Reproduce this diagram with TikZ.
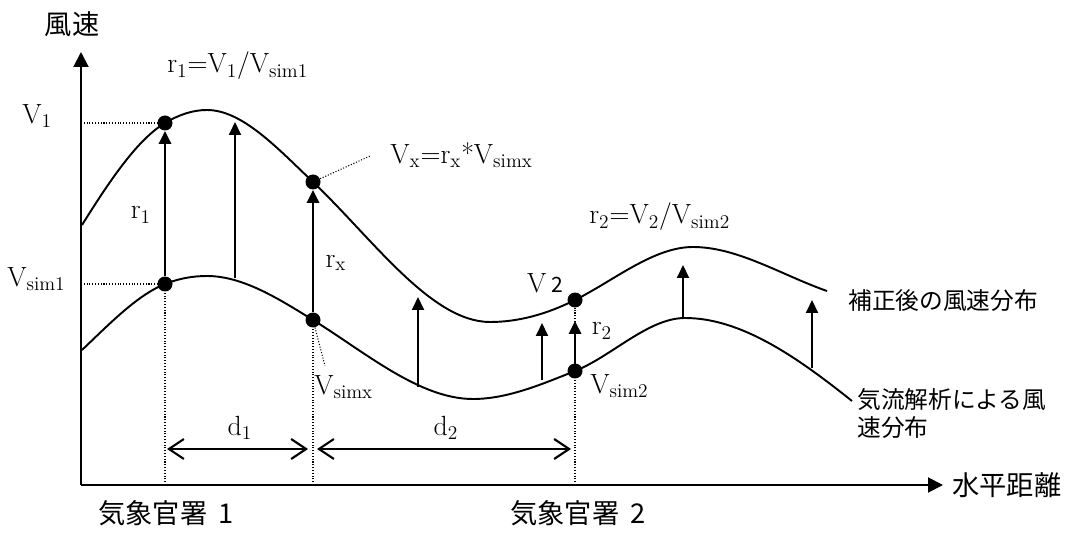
\documentclass[tikz,border=0pt]{standalone}
\usepackage{fontspec}
\newfontfamily\jpfont{Noto Sans CJK JP}
\usetikzlibrary{arrows.meta}
\newcommand{\sub}[1]{\textsubscript{#1}}
\begin{document}
\begin{tikzpicture}[x=0.02cm, y=-0.02cm,
    dot/.style={circle, fill, inner sep=0pt, minimum size=0.3cm},
    lbl/.style={inner sep=0pt, font=\fontsize{15.8}{18}\selectfont},
    jlbl/.style={inner sep=0pt, font=\jpfont\fontsize{13.5}{17}\selectfont},
    axlbl/.style={jlbl, font=\jpfont\fontsize{15.5}{18}\selectfont},
    axis/.style={line width=1.1pt, -{Triangle[length=0.3cm, width=0.3cm]}},
    uparrow/.style={line width=1.1pt, -{Triangle[length=0.26cm, width=0.24cm]}},
    bigarrow/.style={uparrow, line width=1.6pt},
    curve/.style={line width=1.1pt},
    guide/.style={densely dotted, line width=0.6pt},
    span/.style={line width=1.2pt, {Straight Barb[length=0.3cm, width=0.4cm]}-{Straight Barb[length=0.3cm, width=0.4cm]}}]
    \useasboundingbox (0,0) rectangle (1078,533);

    \coordinate (o) at (81,485);
    \coordinate (ytop) at (81,52);
    \coordinate (xend) at (943,485);
    \draw[axis] (o) -- (ytop);
    \draw[axis] (o) -- (xend);
    \node[axlbl] (vaxis) at (72,24) {風速};
    \node[axlbl, anchor=west] (haxis) at (952,485) {水平距離};

    \coordinate (g1) at (165,485);
    \coordinate (gx) at (313,485);
    \coordinate (g2) at (575,485);
    \coordinate (y1) at (81,123);
    \coordinate (ys1) at (81,284);

    % corrected wind speed
    \draw[curve] (82,225) .. controls (109.7,180.7) and (137.3,139.6) .. (165,123)
        .. controls (179,114.6) and (193,110) .. (207,110)
        .. controls (242.3,110) and (277.7,148.5) .. (313,182)
        .. controls (372,238) and (431,322) .. (490,322)
        .. controls (518.3,322) and (546.7,314.2) .. (575,300)
        .. controls (614.3,280.3) and (653.7,247) .. (693,247)
        .. controls (737.7,247) and (782.3,275.4) .. (827,291);
    % simulated wind speed
    \draw[curve] (82,350) .. controls (109.7,323.7) and (137.3,295.1) .. (165,284)
        .. controls (179,278.4) and (193,276) .. (207,276)
        .. controls (242.3,276) and (277.7,298.1) .. (313,320)
        .. controls (366.3,353) and (419.7,399) .. (473,399)
        .. controls (507,399) and (541,384.6) .. (575,371)
        .. controls (611.7,356.3) and (648.3,318) .. (685,318)
        .. controls (740.7,318) and (796.3,356.5) .. (852,401);

    \node[dot] (v1) at (165,123) {};
    \node[dot] (s1) at (165,284) {};
    \node[dot] (vx) at (313,182) {};
    \node[dot] (sx) at (313,320) {};
    \node[dot] (v2) at (575,300) {};
    \node[dot] (s2) at (575,371) {};

    \draw[guide] (y1) -- (v1);
    \draw[guide] (ys1) -- (s1);
    \draw[guide] (g1) -- (s1);
    \draw[guide] (gx) -- (sx);
    \draw[guide] (g2) -- (v2);

    \draw[bigarrow] (s1) -- (v1);
    \draw[bigarrow] (sx) -- (vx);
    \draw[bigarrow, shorten >=0.26cm] (s2) -- (v2);
    \foreach \x/\b/\t in {235/278/122, 418/387/297, 542/380/323, 683/318/265, 812/368/300} {
        \coordinate (b\x) at (\x,\b);
        \coordinate (t\x) at (\x,\t);
        \draw[uparrow] (b\x) -- (t\x);
    }

    \node[lbl, anchor=west] (lv1) at (22,116) {V\sub{1}};
    \node[lbl, anchor=west] (lvs1) at (7,279) {V\sub{sim1}};
    \node[lbl] (lr1) at (141,215) {r\sub{1}};
    \node[lbl] (lrx) at (336,263) {r\sub{x}};
    \node[lbl] (lr2) at (602,331) {r\sub{2}};
    \node[lbl, anchor=west] (eq1) at (167,66) {r\sub{1}=V\sub{1}/V\sub{sim1}};
    \node[lbl, anchor=west] (eqx) at (390,155) {V\sub{x}=r\sub{x}*V\sub{simx}};
    \node[lbl, anchor=west] (eq2) at (589,217) {r\sub{2}=V\sub{2}/V\sub{sim2}};
    \node[lbl] (lv2) at (545,283) {V\,{\jpfont\fontsize{12}{13}\selectfont 2}};
    \node[lbl, anchor=west] (lvsx) at (314,387) {V\sub{simx}};
    \node[lbl, anchor=west] (lvs2) at (590,386) {V\sub{sim2}};

    \coordinate (ex) at (370,156);
    \coordinate (esx) at (325,366);
    \draw[guide] (vx) -- (ex);
    \draw[guide] (sx) -- (esx);

    \coordinate (d1l) at (167,449);
    \coordinate (d1r) at (308,449);
    \coordinate (d2l) at (317,449);
    \coordinate (d2r) at (571,449);
    \draw[span] (d1l) -- (d1r);
    \draw[span] (d2l) -- (d2r);
    \node[lbl] (ld1) at (240,428) {d\sub{1}};
    \node[lbl] (ld2) at (446,428) {d\sub{2}};

    \node[jlbl, anchor=west] (after) at (848,301) {補正後の風速分布};
    \node[jlbl, anchor=west] (sim) at (857,400) {気流解析による風};
    \node[jlbl, anchor=west] (sim2) at (857,428) {速分布};
    \node[axlbl, anchor=west] (st1) at (98,513) {気象官署\hspace{0.4em}1};
    \node[axlbl, anchor=west] (st2) at (510,513) {気象官署\hspace{0.4em}2};
\end{tikzpicture}
\end{document}
